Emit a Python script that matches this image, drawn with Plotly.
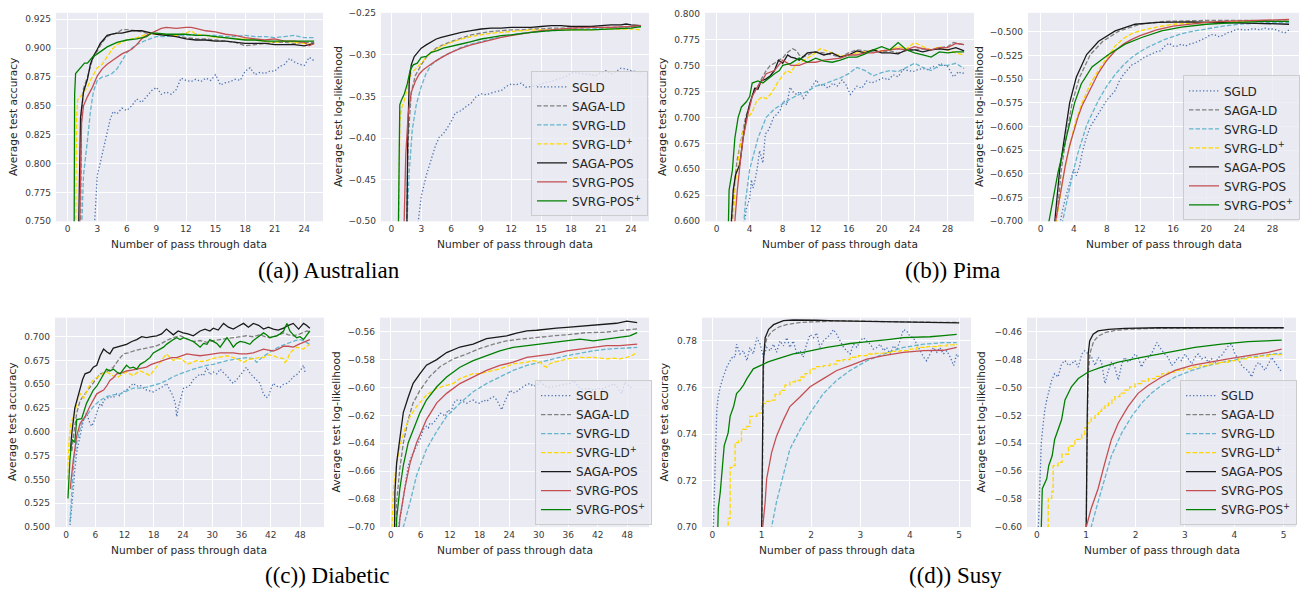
import plotly.graph_objects as go

W, H = 1309, 598

SERIES = ["sgld", "sagald", "svrgld", "svrgldp", "sagapos", "svrgpos", "svrgposp"]
LABELS = ["SGLD", "SAGA-LD", "SVRG-LD", "SVRG-LD<sup>+</sup>", "SAGA-POS", "SVRG-POS", "SVRG-POS<sup>+</sup>"]
COLORS = ["#4C72B0", "#808080", "#64B5CD", "#FFD700", "#1a1a1a", "#C44E52", "#008000"]
DASHES = ["1.3px,2.2px", "4.5px,2px", "4.5px,2px", "4.5px,2px", "solid", "solid", "solid"]

CAPTIONS = ["((a)) Australian", "((b)) Pima", "((c)) Diabetic", "((d)) Susy"]
XTITLE = "Number of pass through data"
YTITLES = ["Average test accuracy", "Average test log-likelihood"]

# ---------------- (a) Australian: accuracy ----------------
AUS_ACC = {
    "sgld": [(2.7,0.745),(3.0,0.790),(3.2,0.797),(3.5,0.808),(3.8,0.818),(4.0,0.825),(4.3,0.838),(4.6,0.845),(5.0,0.843),(5.5,0.848),(6.0,0.846),(6.5,0.850),(7.0,0.856),(7.5,0.853),(8.0,0.858),(8.5,0.863),(9.0,0.866),(9.5,0.860),(10.0,0.862),(10.5,0.860),(11.0,0.864),(11.5,0.874),(12.0,0.872),(12.5,0.871),(13.0,0.873),(13.5,0.871),(14.0,0.874),(14.5,0.872),(15.0,0.877),(15.5,0.868),(16.0,0.870),(16.5,0.871),(17.0,0.873),(17.5,0.872),(18.0,0.880),(18.5,0.883),(19.0,0.877),(19.5,0.879),(20.0,0.878),(20.5,0.880),(21.0,0.880),(21.5,0.884),(22.0,0.886),(22.5,0.891),(23.0,0.888),(23.5,0.886),(24.0,0.885),(24.5,0.892),(25.0,0.889)],
    "sagald": [(1.3,0.74),(1.4,0.84),(1.6,0.865),(2.0,0.875),(2.5,0.89),(3.0,0.898),(3.5,0.905),(4.0,0.91),(4.5,0.912),(5.0,0.913),(5.5,0.916),(6.0,0.916),(7.0,0.915),(8.0,0.913),(9.0,0.912),(10.0,0.911),(11.0,0.911),(12.0,0.909),(13.0,0.908),(14.0,0.908),(15.0,0.907),(16.0,0.906),(17.0,0.905),(18.0,0.902),(19.0,0.903),(20.0,0.904),(21.0,0.905),(22.0,0.905),(23.0,0.904),(24.0,0.905),(25.0,0.905)],
    "svrgld": [(1.4,0.74),(1.6,0.79),(2.0,0.82),(2.3,0.845),(2.6,0.862),(3.0,0.872),(3.5,0.875),(4.0,0.876),(4.5,0.878),(5.0,0.882),(5.5,0.889),(6.0,0.896),(6.5,0.900),(7.0,0.903),(8.0,0.907),(9.0,0.910),(10.0,0.910),(11.0,0.911),(12.0,0.911),(13.0,0.912),(14.0,0.911),(15.0,0.911),(16.0,0.910),(17.0,0.910),(18.0,0.911),(19.0,0.910),(20.0,0.910),(21.0,0.909),(22.0,0.910),(23.0,0.911),(24.0,0.909),(25.0,0.909)],
    "svrgldp": [(0.8,0.74),(0.9,0.84),(1.0,0.855),(1.3,0.858),(1.6,0.862),(2.0,0.866),(2.3,0.872),(2.7,0.878),(3.0,0.883),(3.5,0.886),(4.0,0.893),(4.5,0.899),(5.0,0.903),(5.5,0.905),(6.0,0.907),(7.0,0.909),(8.0,0.912),(9.0,0.912),(10.0,0.912),(11.0,0.911),(12.0,0.913),(12.5,0.915),(13.0,0.912),(14.0,0.911),(15.0,0.909),(16.0,0.909),(17.0,0.908),(18.0,0.908),(19.0,0.907),(20.0,0.906),(21.0,0.905),(22.0,0.906),(23.0,0.905),(24.0,0.904),(25.0,0.903)],
    "sagapos": [(1.1,0.74),(1.3,0.84),(1.6,0.862),(2.0,0.873),(2.3,0.886),(2.6,0.893),(3.0,0.899),(3.3,0.904),(3.6,0.907),(4.0,0.911),(4.5,0.912),(5.0,0.913),(5.5,0.913),(6.0,0.914),(6.5,0.915),(7.0,0.915),(7.5,0.915),(8.0,0.914),(8.5,0.913),(9.0,0.912),(10.0,0.911),(11.0,0.910),(12.0,0.908),(13.0,0.907),(14.0,0.907),(15.0,0.906),(16.0,0.906),(17.0,0.905),(18.0,0.904),(19.0,0.904),(20.0,0.904),(21.0,0.903),(22.0,0.903),(23.0,0.903),(24.0,0.902),(25.0,0.904)],
    "svrgpos": [(1.2,0.74),(1.4,0.835),(1.6,0.850),(2.0,0.858),(2.5,0.866),(3.0,0.876),(3.5,0.882),(4.0,0.886),(4.5,0.889),(5.0,0.892),(5.5,0.895),(6.0,0.897),(6.5,0.899),(7.0,0.903),(7.5,0.908),(8.0,0.911),(8.5,0.913),(9.0,0.915),(9.5,0.917),(10.0,0.918),(11.0,0.917),(12.0,0.918),(12.5,0.918),(13.0,0.917),(14.0,0.915),(15.0,0.914),(16.0,0.912),(17.0,0.911),(18.0,0.909),(19.0,0.908),(20.0,0.907),(21.0,0.908),(22.0,0.906),(23.0,0.906),(24.0,0.905),(24.5,0.902),(25.0,0.904)],
    "svrgposp": [(0.65,0.74),(0.7,0.86),(0.8,0.878),(1.0,0.880),(1.3,0.883),(1.7,0.887),(2.0,0.887),(2.5,0.892),(3.0,0.895),(3.5,0.898),(4.0,0.901),(4.5,0.903),(5.0,0.905),(6.0,0.907),(7.0,0.908),(8.0,0.910),(8.5,0.913),(9.0,0.913),(10.0,0.912),(11.0,0.912),(12.0,0.912),(13.0,0.911),(14.0,0.911),(15.0,0.910),(16.0,0.909),(17.0,0.908),(18.0,0.907),(19.0,0.907),(20.0,0.906),(21.0,0.906),(22.0,0.906),(23.0,0.906),(24.0,0.906),(25.0,0.906)],
}

# ---------------- (a) Australian: log-likelihood ----------------
AUS_LL = {
    "sgld": [(2.6,-0.51),(3.0,-0.47),(3.5,-0.445),(4.0,-0.425),(4.4,-0.41),(4.8,-0.399),(5.2,-0.395),(5.6,-0.388),(6.0,-0.380),(6.4,-0.370),(7.0,-0.367),(7.5,-0.362),(8.0,-0.358),(8.5,-0.350),(9.0,-0.347),(9.5,-0.348),(10.0,-0.346),(10.5,-0.344),(11.0,-0.343),(11.5,-0.338),(12.0,-0.335),(12.5,-0.336),(13.0,-0.334),(13.5,-0.339),(14.0,-0.338),(14.5,-0.337),(15.0,-0.335),(15.5,-0.333),(16.0,-0.332),(16.5,-0.330),(17.0,-0.328),(17.5,-0.326),(18.0,-0.322),(18.5,-0.321),(19.0,-0.323),(19.5,-0.323),(20.0,-0.324),(20.5,-0.325),(21.0,-0.321),(21.5,-0.319),(22.0,-0.323),(22.5,-0.320),(23.0,-0.316),(23.5,-0.317),(24.0,-0.319),(24.5,-0.320),(25.0,-0.321)],
    "sagald": [(1.5,-0.52),(1.7,-0.40),(2.0,-0.345),(2.4,-0.325),(3.0,-0.312),(3.5,-0.303),(4.0,-0.297),(4.5,-0.292),(5.0,-0.289),(6.0,-0.284),(7.0,-0.280),(8.0,-0.276),(9.0,-0.274),(10.0,-0.272),(11.0,-0.271),(12.0,-0.270),(13.0,-0.270),(14.0,-0.269),(15.0,-0.269),(16.0,-0.268),(18.0,-0.268),(20.0,-0.267),(22.0,-0.267),(24.0,-0.266),(25.0,-0.266)],
    "svrgld": [(1.5,-0.52),(1.8,-0.44),(2.1,-0.39),(2.5,-0.36),(3.0,-0.338),(3.5,-0.322),(4.0,-0.312),(4.5,-0.307),(5.0,-0.303),(5.5,-0.300),(6.0,-0.297),(7.0,-0.291),(8.0,-0.287),(9.0,-0.284),(10.0,-0.281),(11.0,-0.278),(12.0,-0.276),(13.0,-0.274),(14.0,-0.273),(15.0,-0.272),(16.0,-0.271),(18.0,-0.270),(20.0,-0.269),(22.0,-0.268),(24.0,-0.267),(25.0,-0.266)],
    "svrgldp": [(0.75,-0.52),(0.85,-0.38),(1.0,-0.365),(1.3,-0.355),(1.6,-0.34),(2.0,-0.322),(2.5,-0.316),(3.0,-0.310),(3.5,-0.303),(4.0,-0.297),(4.5,-0.293),(5.0,-0.290),(6.0,-0.285),(7.0,-0.281),(8.0,-0.278),(9.0,-0.276),(10.0,-0.274),(12.0,-0.272),(14.0,-0.270),(16.0,-0.270),(18.0,-0.270),(20.0,-0.270),(22.0,-0.269),(24.0,-0.269),(25.0,-0.270)],
    "sagapos": [(1.55,-0.52),(1.65,-0.40),(1.8,-0.33),(2.0,-0.312),(2.3,-0.302),(2.7,-0.296),(3.0,-0.292),(3.5,-0.288),(4.0,-0.284),(4.5,-0.281),(5.0,-0.279),(6.0,-0.276),(7.0,-0.273),(8.0,-0.271),(9.0,-0.269),(10.0,-0.268),(11.0,-0.268),(12.0,-0.267),(13.0,-0.267),(14.0,-0.267),(15.0,-0.266),(16.0,-0.265),(17.0,-0.265),(18.0,-0.266),(19.0,-0.266),(20.0,-0.266),(21.0,-0.265),(22.0,-0.264),(23.0,-0.264),(23.5,-0.263),(24.0,-0.264),(25.0,-0.265)],
    "svrgpos": [(1.25,-0.52),(1.45,-0.42),(1.7,-0.37),(2.0,-0.345),(2.4,-0.332),(2.8,-0.323),(3.2,-0.318),(3.6,-0.314),(4.0,-0.311),(4.5,-0.307),(5.0,-0.303),(5.5,-0.300),(6.0,-0.297),(7.0,-0.292),(8.0,-0.288),(9.0,-0.285),(10.0,-0.282),(11.0,-0.279),(12.0,-0.277),(13.0,-0.275),(14.0,-0.273),(15.0,-0.271),(16.0,-0.270),(17.0,-0.269),(18.0,-0.268),(20.0,-0.267),(22.0,-0.267),(24.0,-0.266),(25.0,-0.265)],
    "svrgposp": [(0.7,-0.52),(0.85,-0.36),(1.0,-0.355),(1.3,-0.347),(1.6,-0.335),(1.9,-0.318),(2.2,-0.312),(2.6,-0.310),(3.0,-0.303),(3.5,-0.302),(4.0,-0.297),(4.6,-0.295),(5.2,-0.292),(6.0,-0.290),(7.0,-0.287),(8.0,-0.284),(9.0,-0.281),(10.0,-0.279),(11.0,-0.277),(12.0,-0.276),(14.0,-0.273),(16.0,-0.271),(18.0,-0.270),(20.0,-0.270),(22.0,-0.269),(24.0,-0.268),(25.0,-0.266)],
}

# ---------------- (b) Pima: accuracy ----------------
PIMA_ACC = {
    "sgld": [(3.3,0.595),(3.6,0.612),(4.0,0.622),(4.2,0.640),(4.4,0.632),(4.6,0.638),(4.9,0.650),(5.2,0.668),(5.4,0.662),(5.6,0.656),(5.9,0.684),(6.3,0.688),(6.9,0.700),(7.3,0.703),(7.7,0.707),(8.1,0.716),(8.5,0.712),(8.9,0.729),(9.3,0.724),(9.7,0.722),(10.1,0.725),(10.5,0.718),(10.9,0.722),(11.3,0.727),(11.7,0.731),(12.1,0.736),(12.5,0.730),(12.9,0.732),(13.5,0.728),(14.1,0.733),(14.6,0.730),(15.2,0.736),(15.7,0.731),(16.2,0.722),(16.6,0.726),(17.0,0.730),(17.6,0.728),(18.2,0.735),(18.8,0.733),(19.4,0.735),(19.8,0.736),(20.2,0.738),(20.8,0.736),(21.4,0.741),(22.0,0.739),(22.6,0.746),(23.2,0.745),(23.8,0.744),(24.4,0.746),(25.0,0.747),(25.6,0.746),(26.3,0.749),(26.7,0.748),(27.1,0.752),(27.5,0.750),(27.9,0.750),(28.3,0.745),(28.7,0.739),(29.0,0.741),(29.3,0.744),(29.7,0.742),(30.0,0.743)],
    "sagald": [(1.8,0.59),(2.2,0.64),(2.5,0.66),(3.0,0.68),(3.5,0.70),(4.0,0.712),(4.3,0.72),(4.7,0.728),(5.0,0.730),(5.5,0.738),(6.0,0.745),(6.5,0.750),(7.0,0.752),(7.5,0.755),(8.0,0.757),(8.5,0.762),(9.2,0.766),(9.7,0.764),(10.0,0.760),(10.5,0.758),(11.0,0.760),(12.0,0.763),(13.0,0.762),(14.0,0.760),(15.0,0.758),(16.0,0.762),(17.0,0.765),(18.0,0.764),(19.0,0.763),(20.0,0.763),(21.0,0.764),(22.0,0.762),(23.0,0.764),(24.0,0.765),(25.0,0.766),(26.0,0.765),(27.0,0.767),(28.0,0.768),(28.7,0.772),(29.3,0.771),(30.0,0.770)],
    "svrgld": [(3.2,0.59),(3.5,0.62),(4.0,0.65),(4.5,0.665),(5.0,0.68),(5.5,0.69),(6.0,0.70),(7.0,0.708),(8.0,0.713),(9.0,0.718),(10.0,0.722),(11.0,0.725),(12.0,0.730),(13.0,0.732),(14.0,0.735),(15.0,0.738),(16.0,0.742),(17.0,0.748),(18.0,0.745),(19.0,0.740),(20.0,0.743),(21.0,0.745),(22.0,0.744),(23.0,0.748),(24.0,0.752),(25.0,0.748),(26.0,0.745),(27.0,0.750),(28.0,0.750),(29.0,0.752),(30.0,0.747)],
    "svrgldp": [(1.9,0.59),(2.3,0.64),(2.8,0.67),(3.3,0.69),(3.8,0.70),(4.3,0.705),(4.8,0.715),(5.5,0.720),(6.0,0.718),(6.5,0.722),(7.0,0.728),(7.5,0.735),(8.0,0.740),(8.5,0.745),(9.0,0.743),(9.5,0.750),(10.0,0.752),(11.0,0.757),(12.0,0.762),(12.5,0.766),(13.0,0.765),(14.0,0.762),(15.0,0.759),(16.0,0.760),(17.0,0.762),(18.0,0.763),(19.0,0.765),(20.0,0.764),(21.0,0.765),(22.0,0.768),(23.0,0.766),(24.0,0.772),(25.0,0.768),(26.0,0.765),(27.0,0.768),(28.0,0.765),(29.0,0.762),(30.0,0.760)],
    "sagapos": [(1.7,0.59),(2.0,0.63),(2.3,0.645),(2.8,0.655),(3.2,0.68),(3.6,0.70),(4.0,0.713),(4.3,0.72),(4.6,0.728),(5.0,0.727),(5.4,0.735),(6.0,0.737),(6.5,0.740),(7.0,0.745),(7.5,0.755),(8.0,0.752),(8.6,0.760),(9.0,0.758),(9.5,0.757),(10.0,0.755),(11.0,0.762),(12.0,0.763),(13.0,0.760),(14.0,0.762),(15.0,0.758),(16.0,0.760),(17.0,0.764),(18.0,0.762),(19.0,0.765),(20.0,0.762),(21.0,0.762),(22.0,0.761),(23.0,0.765),(24.0,0.765),(25.0,0.763),(26.0,0.765),(27.0,0.766),(28.0,0.765),(29.0,0.767),(30.0,0.764)],
    "svrgpos": [(2.1,0.59),(2.5,0.63),(2.9,0.66),(3.2,0.68),(3.7,0.70),(4.3,0.72),(5.0,0.730),(5.5,0.735),(6.0,0.742),(7.0,0.745),(7.5,0.750),(8.0,0.755),(9.0,0.750),(10.0,0.750),(11.0,0.753),(12.0,0.753),(13.0,0.755),(14.0,0.756),(15.0,0.757),(16.0,0.760),(17.0,0.760),(18.0,0.762),(19.0,0.762),(20.0,0.764),(21.0,0.765),(22.0,0.766),(23.0,0.765),(24.0,0.768),(25.0,0.766),(26.0,0.765),(27.0,0.767),(28.0,0.767),(29.0,0.771),(30.0,0.770)],
    "svrgposp": [(1.4,0.59),(1.5,0.63),(1.9,0.649),(2.2,0.68),(2.6,0.70),(3.0,0.71),(3.6,0.715),(4.0,0.72),(4.3,0.733),(5.0,0.735),(5.6,0.733),(6.2,0.737),(7.0,0.742),(7.6,0.745),(8.0,0.750),(9.0,0.752),(10.0,0.757),(11.0,0.753),(12.0,0.757),(13.0,0.754),(14.0,0.753),(15.0,0.755),(16.0,0.758),(17.0,0.758),(18.0,0.761),(19.0,0.765),(20.0,0.768),(21.0,0.765),(22.0,0.772),(23.0,0.765),(24.0,0.762),(25.0,0.760),(26.0,0.758),(27.0,0.763),(28.0,0.762),(29.0,0.763),(30.0,0.763)],
}

# ---------------- (b) Pima: log-likelihood ----------------
PIMA_LL = {
    "sgld": [(2.2,-0.71),(2.6,-0.69),(3.0,-0.675),(3.5,-0.66),(4.0,-0.645),(4.3,-0.652),(4.7,-0.642),(5.0,-0.628),(5.5,-0.612),(6.0,-0.600),(6.5,-0.593),(7.0,-0.585),(7.5,-0.578),(8.0,-0.572),(8.5,-0.567),(9.0,-0.562),(9.5,-0.552),(10.0,-0.545),(10.5,-0.540),(11.0,-0.535),(11.5,-0.533),(12.0,-0.530),(12.5,-0.527),(13.0,-0.525),(13.5,-0.523),(14.0,-0.521),(14.5,-0.520),(15.0,-0.515),(15.5,-0.512),(16.0,-0.515),(16.5,-0.515),(17.0,-0.513),(17.5,-0.515),(18.0,-0.513),(18.5,-0.512),(19.0,-0.510),(19.5,-0.508),(20.0,-0.506),(20.5,-0.503),(21.0,-0.503),(21.5,-0.505),(22.0,-0.504),(22.5,-0.501),(23.0,-0.500),(23.5,-0.498),(24.0,-0.497),(24.5,-0.498),(25.0,-0.498),(25.5,-0.497),(26.0,-0.497),(26.5,-0.498),(27.0,-0.496),(27.5,-0.497),(28.0,-0.497),(28.5,-0.498),(29.0,-0.500),(29.5,-0.501),(30.0,-0.498)],
    "sagald": [(1.8,-0.71),(2.5,-0.645),(3.1,-0.61),(3.8,-0.575),(4.7,-0.548),(6.0,-0.524),(7.5,-0.51),(9.5,-0.499),(12.0,-0.492),(15.0,-0.489),(20.0,-0.488),(25.0,-0.488),(30.0,-0.489)],
    "svrgld": [(2.4,-0.71),(3.0,-0.685),(3.5,-0.665),(4.0,-0.645),(4.5,-0.628),(5.0,-0.613),(5.5,-0.600),(6.0,-0.59),(7.0,-0.572),(8.0,-0.557),(9.0,-0.545),(10.0,-0.535),(11.0,-0.527),(12.0,-0.521),(13.0,-0.516),(14.0,-0.512),(15.0,-0.508),(16.0,-0.505),(17.0,-0.502),(18.0,-0.500),(20.0,-0.497),(22.0,-0.494),(24.0,-0.492),(26.0,-0.491),(28.0,-0.490),(30.0,-0.490)],
    "svrgldp": [(1.7,-0.71),(2.2,-0.68),(2.7,-0.655),(3.2,-0.632),(3.7,-0.612),(4.2,-0.595),(5.0,-0.575),(6.0,-0.555),(7.0,-0.54),(8.0,-0.527),(9.0,-0.515),(10.0,-0.507),(11.0,-0.502),(12.0,-0.499),(14.0,-0.495),(16.0,-0.492),(18.0,-0.491),(20.0,-0.490),(24.0,-0.489),(28.0,-0.489),(30.0,-0.489)],
    "sagapos": [(1.6,-0.71),(2.3,-0.645),(2.9,-0.61),(3.5,-0.575),(4.3,-0.548),(5.55,-0.524),(7.0,-0.51),(9.0,-0.499),(11.4,-0.492),(14.2,-0.490),(18.0,-0.4895),(22.0,-0.490),(26.0,-0.491),(30.0,-0.492)],
    "svrgpos": [(1.6,-0.71),(2.0,-0.69),(2.5,-0.665),(3.0,-0.64),(3.5,-0.62),(4.0,-0.605),(4.5,-0.59),(5.0,-0.578),(6.0,-0.56),(7.0,-0.543),(8.0,-0.53),(9.0,-0.52),(10.0,-0.513),(11.0,-0.508),(12.0,-0.504),(13.0,-0.501),(14.0,-0.498),(16.0,-0.494),(18.0,-0.492),(20.0,-0.490),(22.0,-0.489),(25.0,-0.488),(28.0,-0.487),(30.0,-0.487)],
    "svrgposp": [(0.9,-0.71),(1.0,-0.70),(2.1,-0.648),(3.1,-0.61),(4.1,-0.575),(4.9,-0.555),(6.2,-0.537),(8.2,-0.524),(10.2,-0.513),(12.2,-0.506),(14.6,-0.499),(17.0,-0.495),(20.0,-0.492),(24.0,-0.490),(27.0,-0.489),(30.0,-0.489)],
}

# ---------------- (c) Diabetic: accuracy ----------------
DIAB_ACC = {
    "sgld": [(0.7,0.495),(0.9,0.505),(1.2,0.520),(1.5,0.540),(1.8,0.561),(2.3,0.582),(2.9,0.596),(3.3,0.605),(3.6,0.613),(4.2,0.620),(4.6,0.612),(4.9,0.609),(5.3,0.606),(5.8,0.612),(6.3,0.620),(6.7,0.626),(7.0,0.630),(7.4,0.628),(7.7,0.633),(8.3,0.635),(9.0,0.637),(9.7,0.636),(10.4,0.640),(11.0,0.638),(11.6,0.642),(12.4,0.644),(13.1,0.647),(13.8,0.651),(14.5,0.648),(15.2,0.649),(15.9,0.646),(16.5,0.644),(17.2,0.643),(17.9,0.642),(18.6,0.644),(19.3,0.646),(20.0,0.648),(20.6,0.651),(21.3,0.644),(21.9,0.638),(22.4,0.630),(22.7,0.616),(23.0,0.625),(23.4,0.633),(24.1,0.646),(24.8,0.647),(25.4,0.649),(26.1,0.655),(26.8,0.658),(27.5,0.661),(28.2,0.659),(28.9,0.668),(29.5,0.660),(30.2,0.663),(30.9,0.661),(31.6,0.666),(32.3,0.662),(33.0,0.659),(33.7,0.654),(34.3,0.651),(35.0,0.655),(35.7,0.659),(36.4,0.664),(37.0,0.668),(37.7,0.662),(38.4,0.658),(39.1,0.655),(39.8,0.651),(40.2,0.644),(40.5,0.640),(41.0,0.636),(41.5,0.637),(42.0,0.645),(42.5,0.651),(43.2,0.648),(43.9,0.647),(44.6,0.650),(45.3,0.651),(46.0,0.654),(46.6,0.658),(47.3,0.660),(48.0,0.664),(48.7,0.670),(49.0,0.663),(49.4,0.663)],
    "sagald": [(1.2,0.58),(1.5,0.595),(2.2,0.620),(2.9,0.633),(3.9,0.640),(4.9,0.647),(6.0,0.655),(7.0,0.661),(8.3,0.663),(9.7,0.668),(10.8,0.676),(11.8,0.682),(12.8,0.683),(13.8,0.685),(15.5,0.687),(17.2,0.689),(18.3,0.690),(19.3,0.692),(20.6,0.696),(22.0,0.699),(23.4,0.701),(24.7,0.698),(26.1,0.695),(27.5,0.696),(28.9,0.694),(30.2,0.696),(31.6,0.697),(33.0,0.698),(34.3,0.699),(35.6,0.700),(37.0,0.701),(38.4,0.700),(39.8,0.702),(40.8,0.700),(41.8,0.699),(43.2,0.701),(44.6,0.704),(45.6,0.702),(46.6,0.701),(48.0,0.703),(49.4,0.706),(50.0,0.705)],
    "svrgld": [(0.8,0.505),(1.2,0.540),(1.6,0.568),(2.2,0.589),(3.2,0.609),(3.9,0.615),(4.6,0.620),(5.5,0.626),(6.3,0.630),(7.3,0.634),(8.3,0.637),(9.7,0.639),(11.1,0.640),(12.4,0.643),(13.8,0.646),(15.2,0.646),(16.5,0.647),(17.9,0.649),(19.3,0.651),(20.6,0.654),(22.0,0.658),(23.4,0.661),(24.8,0.664),(26.1,0.666),(27.5,0.668),(28.9,0.670),(30.2,0.671),(31.6,0.673),(33.0,0.675),(34.3,0.676),(35.7,0.677),(37.0,0.678),(38.4,0.677),(39.1,0.673),(40.1,0.678),(41.2,0.682),(42.5,0.686),(43.9,0.690),(44.9,0.692),(45.9,0.694),(47.0,0.696),(48.0,0.697),(49.0,0.695),(50.0,0.692)],
    "svrgldp": [(0.3,0.550),(0.35,0.561),(0.6,0.589),(1.0,0.609),(1.8,0.620),(2.5,0.637),(3.0,0.640),(3.6,0.635),(4.6,0.647),(5.2,0.652),(5.9,0.656),(7.0,0.659),(7.7,0.662),(8.3,0.663),(9.0,0.661),(9.7,0.659),(10.4,0.657),(11.1,0.659),(11.8,0.661),(12.4,0.663),(13.1,0.661),(13.8,0.659),(14.5,0.662),(15.2,0.664),(16.2,0.662),(17.2,0.659),(17.9,0.664),(18.6,0.668),(19.3,0.673),(20.0,0.678),(20.6,0.682),(21.3,0.678),(22.0,0.675),(22.7,0.677),(23.4,0.677),(24.1,0.675),(24.8,0.671),(25.8,0.673),(26.8,0.675),(27.8,0.674),(28.9,0.675),(29.9,0.677),(30.9,0.678),(32.0,0.679),(33.0,0.680),(34.3,0.678),(35.4,0.676),(36.4,0.673),(37.4,0.676),(38.4,0.677),(39.5,0.678),(40.5,0.678),(41.5,0.681),(42.5,0.680),(43.5,0.678),(44.6,0.677),(44.9,0.673),(45.4,0.676),(45.9,0.683),(46.6,0.686),(47.3,0.689),(48.0,0.688),(48.7,0.687),(49.4,0.690),(50.0,0.692)],
    "sagapos": [(0.9,0.58),(1.2,0.599),(1.8,0.625),(2.3,0.635),(2.9,0.647),(3.4,0.655),(3.9,0.661),(4.9,0.663),(5.6,0.668),(6.3,0.670),(7.0,0.680),(7.7,0.687),(8.4,0.684),(9.0,0.682),(9.7,0.688),(10.4,0.689),(11.4,0.690),(12.4,0.692),(13.5,0.695),(14.5,0.697),(15.5,0.700),(16.5,0.699),(17.5,0.700),(18.6,0.701),(19.6,0.703),(20.6,0.708),(21.3,0.705),(22.0,0.702),(23.0,0.706),(24.0,0.704),(25.0,0.703),(26.1,0.701),(27.5,0.706),(28.5,0.708),(29.5,0.706),(30.2,0.709),(31.2,0.707),(32.3,0.714),(33.3,0.710),(34.3,0.708),(35.3,0.711),(36.4,0.714),(37.4,0.710),(38.4,0.714),(39.5,0.712),(40.5,0.708),(41.5,0.710),(42.5,0.708),(43.5,0.707),(44.6,0.709),(45.6,0.712),(46.6,0.714),(47.7,0.708),(48.7,0.714),(49.3,0.712),(50.0,0.709)],
    "svrgpos": [(0.9,0.540),(1.0,0.547),(1.5,0.571),(2.2,0.596),(2.9,0.609),(3.9,0.616),(4.9,0.627),(5.6,0.634),(6.3,0.640),(7.0,0.642),(7.7,0.644),(8.3,0.648),(9.0,0.654),(9.7,0.657),(10.4,0.661),(11.4,0.662),(12.4,0.664),(13.5,0.665),(14.5,0.666),(15.5,0.667),(16.5,0.668),(17.5,0.671),(18.6,0.673),(19.6,0.675),(20.6,0.677),(21.6,0.678),(22.7,0.678),(23.7,0.680),(24.8,0.682),(26.1,0.681),(27.5,0.680),(28.9,0.681),(30.2,0.682),(31.6,0.683),(33.0,0.683),(34.3,0.683),(35.7,0.682),(37.0,0.682),(38.4,0.683),(39.5,0.685),(40.5,0.687),(41.5,0.686),(42.5,0.685),(43.5,0.687),(44.6,0.690),(45.6,0.690),(46.6,0.689),(47.7,0.692),(48.7,0.694),(49.4,0.696),(50.0,0.697)],
    "svrgposp": [(0.4,0.530),(0.5,0.540),(0.8,0.571),(1.2,0.592),(1.8,0.589),(2.2,0.613),(3.2,0.614),(4.2,0.630),(4.9,0.637),(5.6,0.644),(6.3,0.648),(7.0,0.654),(7.7,0.660),(8.3,0.666),(9.0,0.664),(9.7,0.666),(10.4,0.663),(11.1,0.661),(11.8,0.666),(12.4,0.670),(13.1,0.667),(13.8,0.668),(14.5,0.666),(15.2,0.671),(16.2,0.674),(17.2,0.678),(17.9,0.683),(18.6,0.685),(19.3,0.687),(20.0,0.689),(20.6,0.692),(21.3,0.695),(22.0,0.697),(22.7,0.699),(23.4,0.697),(24.1,0.699),(25.1,0.697),(26.1,0.695),(26.8,0.692),(27.5,0.689),(28.2,0.693),(28.9,0.692),(29.5,0.697),(30.2,0.695),(30.9,0.693),(31.6,0.689),(32.3,0.694),(33.0,0.699),(33.7,0.694),(34.3,0.689),(35.0,0.693),(35.7,0.695),(36.7,0.694),(37.7,0.692),(38.4,0.696),(39.1,0.699),(39.8,0.701),(40.5,0.704),(41.1,0.702),(41.8,0.699),(42.5,0.700),(43.2,0.701),(43.9,0.703),(44.6,0.706),(45.3,0.714),(45.9,0.706),(46.6,0.702),(47.3,0.699),(48.0,0.700),(48.7,0.697),(49.4,0.702),(50.0,0.706)],
}

# ---------------- (c) Diabetic: log-likelihood ----------------
DIAB_LL = {
    "sgld": [(1.4,-0.71),(1.5,-0.70),(2.2,-0.6866),(2.8,-0.6725),(3.5,-0.656),(4.2,-0.649),(4.7,-0.645),(5.2,-0.642),(5.9,-0.6372),(6.6,-0.630),(7.2,-0.6278),(7.6,-0.629),(7.9,-0.6254),(8.4,-0.626),(8.9,-0.6242),(9.5,-0.621),(10.0,-0.6184),(10.5,-0.619),(11.0,-0.6207),(11.6,-0.616),(12.2,-0.618),(12.7,-0.6113),(13.3,-0.609),(14.0,-0.609),(14.7,-0.610),(15.4,-0.6113),(16.0,-0.610),(16.7,-0.609),(17.4,-0.611),(18.1,-0.6113),(18.8,-0.609),(19.4,-0.610),(20.1,-0.608),(20.8,-0.6066),(21.5,-0.609),(22.0,-0.612),(22.5,-0.616),(23.0,-0.611),(23.5,-0.6066),(24.2,-0.6019),(24.8,-0.604),(25.5,-0.603),(26.2,-0.601),(26.9,-0.5995),(27.5,-0.598),(28.2,-0.5972),(28.9,-0.599),(29.6,-0.5984),(30.3,-0.596),(31.0,-0.598),(31.6,-0.5995),(32.3,-0.600),(33.0,-0.5995),(33.6,-0.599),(34.3,-0.5984),(35.0,-0.598),(35.7,-0.5972),(36.4,-0.597),(37.0,-0.5948),(37.7,-0.598),(38.4,-0.6007),(39.0,-0.601),(39.7,-0.6007),(40.4,-0.601),(41.1,-0.6019),(41.8,-0.601),(42.5,-0.6007),(43.1,-0.601),(43.8,-0.5995),(44.5,-0.599),(45.2,-0.5972),(46.0,-0.600),(46.5,-0.603),(46.9,-0.6042),(47.5,-0.596),(48.0,-0.598),(48.5,-0.5995),(48.9,-0.6007)],
    "sagald": [(1.0,-0.71),(1.15,-0.682),(1.8,-0.658),(2.5,-0.640),(3.5,-0.623),(4.5,-0.611),(5.9,-0.602),(7.9,-0.592),(10.0,-0.585),(12.7,-0.5795),(15.4,-0.576),(18.1,-0.572),(20.8,-0.569),(23.5,-0.5666),(26.2,-0.5654),(29.6,-0.564),(33.0,-0.563),(36.4,-0.562),(39.7,-0.5607),(43.1,-0.5605),(46.5,-0.5595),(50.0,-0.558)],
    "svrgld": [(2.3,-0.705),(2.5,-0.70),(3.9,-0.6819),(5.2,-0.663),(7.2,-0.6442),(9.3,-0.6313),(11.3,-0.6207),(14.0,-0.6113),(16.7,-0.603),(19.4,-0.5972),(22.1,-0.5925),(24.8,-0.5878),(27.6,-0.5842),(30.3,-0.5819),(33.0,-0.5795),(35.7,-0.5772),(38.4,-0.5755),(41.1,-0.5737),(43.8,-0.5725),(46.5,-0.5718),(50.0,-0.5713)],
    "svrgldp": [(0.15,-0.71),(0.2,-0.70),(0.5,-0.6725),(1.0,-0.658),(1.8,-0.642),(2.8,-0.630),(3.9,-0.6207),(5.2,-0.6136),(7.2,-0.6054),(9.3,-0.6007),(11.3,-0.5984),(12.7,-0.597),(14.0,-0.5936),(15.4,-0.592),(16.7,-0.5901),(18.1,-0.590),(19.4,-0.5889),(20.8,-0.588),(22.1,-0.5866),(23.5,-0.585),(24.8,-0.5831),(26.2,-0.5825),(27.6,-0.5819),(28.9,-0.5807),(30.3,-0.582),(31.0,-0.5845),(31.6,-0.5854),(32.3,-0.583),(33.0,-0.582),(34.3,-0.581),(35.7,-0.5795),(37.0,-0.579),(38.4,-0.5784),(39.7,-0.5786),(41.1,-0.5784),(42.5,-0.579),(43.8,-0.5795),(45.2,-0.579),(46.5,-0.5795),(47.9,-0.5784),(49.0,-0.577),(50.0,-0.5748)],
    "sagapos": [(0.7,-0.71),(0.8,-0.675),(1.15,-0.654),(1.8,-0.635),(2.5,-0.618),(3.5,-0.607),(4.5,-0.597),(5.9,-0.590),(7.2,-0.584),(9.3,-0.580),(11.3,-0.575),(14.0,-0.571),(16.7,-0.569),(19.4,-0.565),(21.5,-0.564),(23.5,-0.563),(25.5,-0.561),(27.6,-0.5595),(29.6,-0.559),(31.6,-0.558),(33.6,-0.5575),(35.7,-0.557),(37.7,-0.5565),(39.7,-0.556),(41.8,-0.5555),(43.8,-0.555),(45.8,-0.554),(47.9,-0.5525),(49.0,-0.553),(50.0,-0.5535)],
    "svrgpos": [(1.5,-0.71),(1.8,-0.6937),(2.8,-0.6725),(3.9,-0.6537),(5.2,-0.6395),(7.2,-0.623),(9.3,-0.611),(11.3,-0.6042),(14.0,-0.5972),(16.7,-0.5925),(19.4,-0.5878),(22.1,-0.5842),(24.8,-0.5819),(27.6,-0.5784),(30.3,-0.5772),(33.0,-0.576),(35.7,-0.5737),(38.4,-0.5725),(41.1,-0.5713),(43.8,-0.570),(46.5,-0.570),(48.5,-0.5695),(50.0,-0.569)],
    "svrgposp": [(1.1,-0.71),(1.15,-0.694),(1.8,-0.6725),(2.5,-0.656),(3.5,-0.6395),(4.5,-0.630),(5.9,-0.618),(7.2,-0.609),(9.3,-0.5995),(11.3,-0.5925),(14.0,-0.5855),(16.7,-0.5807),(19.4,-0.577),(22.1,-0.5737),(24.8,-0.5713),(27.6,-0.570),(30.3,-0.569),(33.0,-0.5678),(35.7,-0.5666),(38.4,-0.5654),(41.1,-0.5666),(43.8,-0.5654),(46.5,-0.564),(48.5,-0.563),(50.0,-0.5607)],
}

# ---------------- (d) Susy: accuracy ----------------
SUSY_ACC = {
    "sgld": [(0.02,0.70),(0.04,0.7165),(0.06,0.7349),(0.09,0.7504),(0.12,0.756),(0.16,0.7603),(0.22,0.7645),(0.29,0.7687),(0.36,0.7715),(0.42,0.7735),(0.46,0.773),(0.49,0.7786),(0.56,0.7744),(0.63,0.7758),(0.7,0.7715),(0.76,0.7772),(0.83,0.7744),(0.9,0.7814),(0.97,0.7786),(1.03,0.773),(1.1,0.7772),(1.17,0.7758),(1.24,0.7786),(1.3,0.7751),(1.37,0.780),(1.44,0.7779),(1.51,0.7814),(1.57,0.7772),(1.64,0.780),(1.71,0.7744),(1.78,0.7758),(1.84,0.773),(1.91,0.7786),(1.98,0.7828),(2.05,0.7814),(2.11,0.7835),(2.18,0.7772),(2.25,0.780),(2.32,0.7814),(2.39,0.7828),(2.45,0.7849),(2.52,0.7828),(2.59,0.780),(2.66,0.7772),(2.72,0.7758),(2.79,0.7744),(2.86,0.7786),(2.93,0.7772),(2.99,0.780),(3.06,0.7814),(3.13,0.780),(3.2,0.7786),(3.26,0.7765),(3.33,0.7772),(3.4,0.7786),(3.47,0.7758),(3.53,0.7772),(3.6,0.7744),(3.67,0.7779),(3.74,0.7765),(3.8,0.780),(3.87,0.7849),(3.94,0.7842),(4.0,0.7821),(4.07,0.7814),(4.14,0.7786),(4.21,0.7758),(4.28,0.773),(4.34,0.7715),(4.41,0.7744),(4.48,0.7772),(4.55,0.7751),(4.61,0.7772),(4.68,0.7744),(4.75,0.7758),(4.82,0.773),(4.89,0.7694),(4.95,0.7744),(4.99,0.773)],
    "sagald": [(1.0,0.69),(1.01,0.72),(1.04,0.775),(1.1,0.781),(1.2,0.784),(1.35,0.786),(1.5,0.787),(1.8,0.788),(2.2,0.7885),(2.6,0.7887),(3.0,0.7885),(3.5,0.7883),(4.0,0.788),(4.5,0.788),(5.0,0.788)],
    "svrgld": [(1.18,0.69),(1.2,0.70),(1.3,0.7109),(1.44,0.7222),(1.57,0.7335),(1.78,0.742),(1.98,0.749),(2.25,0.7574),(2.52,0.7631),(2.79,0.7673),(3.13,0.7715),(3.47,0.7744),(3.87,0.7772),(4.28,0.7786),(4.68,0.7793),(4.95,0.7793)],
    "svrgldp": [(0.29,0.690),(0.32,0.7038),(0.36,0.7257),(0.43,0.7264),(0.46,0.7363),(0.53,0.737),(0.59,0.742),(0.7,0.7433),(0.76,0.7476),(0.9,0.749),(1.0,0.7532),(1.1,0.754),(1.17,0.7546),(1.27,0.757),(1.37,0.7588),(1.47,0.761),(1.57,0.7624),(1.68,0.763),(1.78,0.7645),(1.88,0.766),(1.98,0.768),(2.11,0.769),(2.25,0.7694),(2.38,0.770),(2.52,0.7715),(2.65,0.772),(2.79,0.773),(2.96,0.7737),(3.13,0.7744),(3.3,0.7747),(3.47,0.775),(3.64,0.7755),(3.8,0.7758),(3.97,0.7765),(4.14,0.7772),(4.35,0.7776),(4.55,0.7779),(4.75,0.7783),(4.95,0.7786)],
    "sagapos": [(0.995,0.69),(1.0,0.70),(1.02,0.74),(1.03,0.770),(1.07,0.7814),(1.14,0.785),(1.24,0.787),(1.44,0.7887),(1.64,0.789),(1.9,0.789),(2.11,0.7889),(2.5,0.7886),(2.79,0.7885),(3.1,0.7883),(3.47,0.788),(3.8,0.788),(4.14,0.7879),(4.5,0.7878),(5.0,0.7878)],
    "svrgpos": [(1.01,0.69),(1.02,0.70),(1.07,0.7109),(1.1,0.7208),(1.2,0.732),(1.3,0.7391),(1.44,0.7461),(1.57,0.7518),(1.78,0.756),(1.98,0.7603),(2.25,0.7638),(2.52,0.7673),(2.79,0.7694),(3.13,0.7722),(3.47,0.7737),(3.87,0.7751),(4.28,0.7758),(4.68,0.776),(4.95,0.7772)],
    "svrgposp": [(0.1,0.69),(0.12,0.708),(0.16,0.715),(0.2,0.724),(0.24,0.735),(0.32,0.7405),(0.36,0.7476),(0.43,0.7518),(0.49,0.7574),(0.56,0.759),(0.63,0.761),(0.7,0.7638),(0.77,0.766),(0.83,0.768),(0.97,0.7694),(1.13,0.771),(1.3,0.7722),(1.47,0.7733),(1.64,0.7744),(1.81,0.775),(1.98,0.7758),(2.15,0.7765),(2.32,0.7772),(2.55,0.778),(2.79,0.7789),(3.06,0.7795),(3.33,0.780),(3.6,0.7807),(3.87,0.7814),(4.14,0.7815),(4.41,0.7818),(4.68,0.7823),(4.95,0.7828)],
}

# ---------------- (d) Susy: log-likelihood ----------------
SUSY_LL = {
    "sgld": [(0.03,-0.60),(0.05,-0.5819),(0.07,-0.5584),(0.09,-0.5395),(0.13,-0.5254),(0.16,-0.516),(0.2,-0.5089),(0.23,-0.5042),(0.3,-0.4948),(0.36,-0.4901),(0.43,-0.4925),(0.5,-0.4831),(0.57,-0.4807),(0.64,-0.4842),(0.7,-0.4831),(0.77,-0.4807),(0.84,-0.4854),(0.91,-0.476),(0.97,-0.4736),(1.04,-0.476),(1.11,-0.4784),(1.18,-0.4842),(1.24,-0.4784),(1.31,-0.4819),(1.38,-0.4972),(1.45,-0.4878),(1.51,-0.4819),(1.58,-0.4854),(1.65,-0.4948),(1.72,-0.4831),(1.78,-0.4784),(1.85,-0.4819),(1.92,-0.4795),(1.99,-0.476),(2.05,-0.4784),(2.12,-0.4854),(2.18,-0.4807),(2.26,-0.4784),(2.32,-0.476),(2.43,-0.4678),(2.49,-0.4713),(2.59,-0.476),(2.66,-0.4784),(2.73,-0.4842),(2.8,-0.4819),(2.86,-0.4784),(2.93,-0.4807),(3.0,-0.476),(3.07,-0.4795),(3.14,-0.4831),(3.2,-0.4784),(3.27,-0.476),(3.34,-0.4795),(3.41,-0.4784),(3.47,-0.4819),(3.54,-0.4795),(3.61,-0.4831),(3.68,-0.4784),(3.74,-0.4772),(3.81,-0.4736),(3.88,-0.4701),(3.95,-0.4689),(4.01,-0.476),(4.08,-0.4795),(4.15,-0.4842),(4.22,-0.4866),(4.28,-0.4878),(4.35,-0.4925),(4.42,-0.4854),(4.49,-0.4819),(4.55,-0.4842),(4.62,-0.4878),(4.69,-0.4831),(4.76,-0.4784),(4.82,-0.4819),(4.89,-0.4854),(4.96,-0.4889)],
    "sagald": [(1.0,-0.61),(1.01,-0.56),(1.04,-0.49),(1.08,-0.475),(1.15,-0.467),(1.25,-0.463),(1.4,-0.4605),(1.6,-0.459),(1.9,-0.4582),(2.3,-0.4577),(3.0,-0.4574),(4.0,-0.4573),(5.0,-0.4572)],
    "svrgld": [(1.09,-0.61),(1.1,-0.60),(1.24,-0.5819),(1.38,-0.5654),(1.51,-0.5489),(1.72,-0.5325),(1.92,-0.5207),(2.12,-0.5113),(2.32,-0.5042),(2.53,-0.4984),(2.8,-0.4925),(3.14,-0.4878),(3.47,-0.4842),(3.88,-0.4812),(4.28,-0.4784),(4.69,-0.4765),(4.96,-0.4755)],
    "svrgldp": [(0.22,-0.61),(0.22,-0.60),(0.23,-0.5795),(0.3,-0.5748),(0.33,-0.556),(0.43,-0.5536),(0.51,-0.5478),(0.64,-0.5419),(0.77,-0.5372),(0.91,-0.5336),(0.97,-0.529),(1.03,-0.5254),(1.1,-0.522),(1.18,-0.5195),(1.25,-0.517),(1.31,-0.5148),(1.38,-0.513),(1.45,-0.5113),(1.52,-0.509),(1.58,-0.5066),(1.68,-0.504),(1.78,-0.5019),(1.88,-0.4995),(1.99,-0.4972),(2.12,-0.4955),(2.26,-0.4936),(2.4,-0.492),(2.53,-0.4901),(2.66,-0.489),(2.8,-0.4878),(2.97,-0.4866),(3.14,-0.4854),(3.3,-0.4843),(3.47,-0.4831),(3.67,-0.482),(3.88,-0.4807),(4.08,-0.4795),(4.28,-0.4784),(4.49,-0.4775),(4.69,-0.4765),(4.96,-0.4755)],
    "sagapos": [(0.995,-0.61),(1.0,-0.60),(1.02,-0.52),(1.04,-0.476),(1.07,-0.4666),(1.14,-0.4619),(1.24,-0.4595),(1.45,-0.4584),(1.78,-0.4576),(2.46,-0.4572),(3.47,-0.4572),(4.2,-0.4572),(5.0,-0.4572)],
    "svrgpos": [(0.99,-0.61),(1.0,-0.60),(1.1,-0.5866),(1.24,-0.5725),(1.38,-0.5536),(1.51,-0.5372),(1.65,-0.5254),(1.85,-0.5136),(2.05,-0.5042),(2.26,-0.4984),(2.53,-0.4925),(2.8,-0.4878),(3.14,-0.4842),(3.47,-0.4819),(3.88,-0.4795),(4.28,-0.4772),(4.69,-0.4748),(4.96,-0.4725)],
    "svrgposp": [(0.09,-0.61),(0.09,-0.60),(0.11,-0.5725),(0.2,-0.5654),(0.24,-0.556),(0.31,-0.5489),(0.36,-0.5372),(0.43,-0.5301),(0.5,-0.5231),(0.57,-0.5089),(0.7,-0.4995),(0.84,-0.4936),(1.04,-0.4889),(1.31,-0.4854),(1.65,-0.4819),(2.12,-0.4784),(2.66,-0.4748),(3.2,-0.4713),(3.74,-0.4689),(4.28,-0.4671),(4.96,-0.4661)]
}

# panel layout: data, pixel box (left, right, top, bottom), x range, y range, x dtick, y dtick, y format, y title index, legend
PANELS = [
    (AUS_ACC,  (56, 323, 8, 220),     [-1.19, 25.9], [0.75, 0.9305],  3, 0.025, ".3f", 0, None),
    (AUS_LL,   (381, 649, 8, 220),    [-1.03, 25.8], [-0.50, -0.2496], 3, 0.05, ".2f", 1, "legend"),
    (PIMA_ACC, (705, 974, 8, 220),    [-1.42, 31.2], [0.60, 0.8005],  4, 0.025, ".3f", 0, None),
    (PIMA_LL,  (1028, 1299, 8, 220),  [-1.53, 31.2], [-0.70, -0.480], 4, 0.025, ".3f", 1, "legend2"),
    (DIAB_ACC, (55, 324, 318, 531),   [-2.26, 52.9], [0.50, 0.720],   6, 0.025, ".3f", 0, None),
    (DIAB_LL,  (380, 649, 318, 531),  [-2.23, 52.4], [-0.70, -0.550], 6, 0.02, ".2f", 1, "legend3"),
    (SUSY_ACC, (702, 971, 318, 531),  [-0.21, 5.24], [0.70, 0.790],   1, 0.02, ".2f", 0, None),
    (SUSY_LL,  (1027, 1296, 318, 531), [-0.20, 5.25], [-0.60, -0.450], 1, 0.02, ".2f", 1, "legend4"),
]
YTITLE_X = [13, 338, 662, 979, 12.5, 336, 664, 981]
CAPTION_POS = [(329, 270), (952, 270), (327, 580), (955, 580)]
# legend box: left edge and bottom edge in pixels
LEGEND_POS = {"legend": (531, 215), "legend2": (1183, 219), "legend3": (535, 529), "legend4": (1180, 529)}

TICK_FONT = dict(family="DejaVu Sans", size=9, color="#3a3a3a")
LABEL_FONT = dict(family="DejaVu Sans", size=10.6, color="#262626")

fig = go.Figure()
layout = dict(width=W, height=H, margin=dict(l=0, r=0, t=0, b=0),
              paper_bgcolor="white", plot_bgcolor="#EAEAF2", showlegend=True)
annotations = []

for i, (data, box, xr, yr, xd, yd, yfmt, yt, leg) in enumerate(PANELS):
    n = i + 1
    sfx = "" if n == 1 else str(n)
    l, r, t, b = box
    layout["xaxis" + sfx] = dict(
        domain=[l / W, r / W], anchor="y" + sfx, range=xr, dtick=xd, tick0=0,
        showgrid=True, gridcolor="white", gridwidth=1, zeroline=False, showline=False,
        ticks="", tickfont=TICK_FONT, ticklabelstandoff=1)
    layout["yaxis" + sfx] = dict(
        domain=[1 - b / H, 1 - t / H], anchor="x" + sfx, range=yr, dtick=yd, tick0=0,
        tickformat=yfmt, showgrid=True, gridcolor="white", gridwidth=1, zeroline=False,
        showline=False, ticks="", tickfont=TICK_FONT, ticklabelstandoff=4)
    for k, key in enumerate(SERIES):
        pts = data[key]
        xs = [p[0] for p in pts]
        ys = [p[1] for p in pts]
        shape = "hv" if (key == "svrgldp" and n >= 7) else "linear"
        fig.add_trace(go.Scatter(
            x=xs, y=ys, mode="lines", name=LABELS[k],
            line=dict(color=COLORS[k], width=1.3, dash=DASHES[k], shape=shape),
            xaxis="x" + sfx, yaxis="y" + sfx,
            showlegend=leg is not None, legend=leg if leg else "legend",
            hoverinfo="skip"))
    # axis titles
    annotations.append(dict(text=XTITLE, x=(l + r) / 2 / W, y=1 - (b + 23) / H,
                            xref="paper", yref="paper", showarrow=False,
                            font=LABEL_FONT, xanchor="center", yanchor="middle"))
    annotations.append(dict(text=YTITLES[yt], x=YTITLE_X[i] / W, y=1 - (t + b) / 2 / H,
                            xref="paper", yref="paper", showarrow=False, textangle=-90,
                            font=LABEL_FONT, xanchor="center", yanchor="middle"))

for cap, (cx, cy) in zip(CAPTIONS, CAPTION_POS):
    annotations.append(dict(text=cap, x=cx / W, y=1 - cy / H, xref="paper", yref="paper",
                            showarrow=False, xanchor="center", yanchor="middle",
                            font=dict(family="Liberation Serif", size=23, color="black")))

for name, (lx, lb) in LEGEND_POS.items():
    layout[name] = dict(x=lx / W, y=1 - lb / H, xanchor="left", yanchor="bottom",
                        xref="paper", yref="paper",
                        bgcolor="rgba(234,234,242,0.8)", bordercolor="#CCCCCC", borderwidth=1,
                        font=dict(family="DejaVu Sans", size=12, color="#262626"),
                        tracegroupgap=0, itemwidth=30)

layout["annotations"] = annotations
fig.update_layout(**layout)
fig.write_html("out.html", config={"displayModeBar": False},
               post_script="document.body.style.margin='0';document.body.style.padding='0';")
